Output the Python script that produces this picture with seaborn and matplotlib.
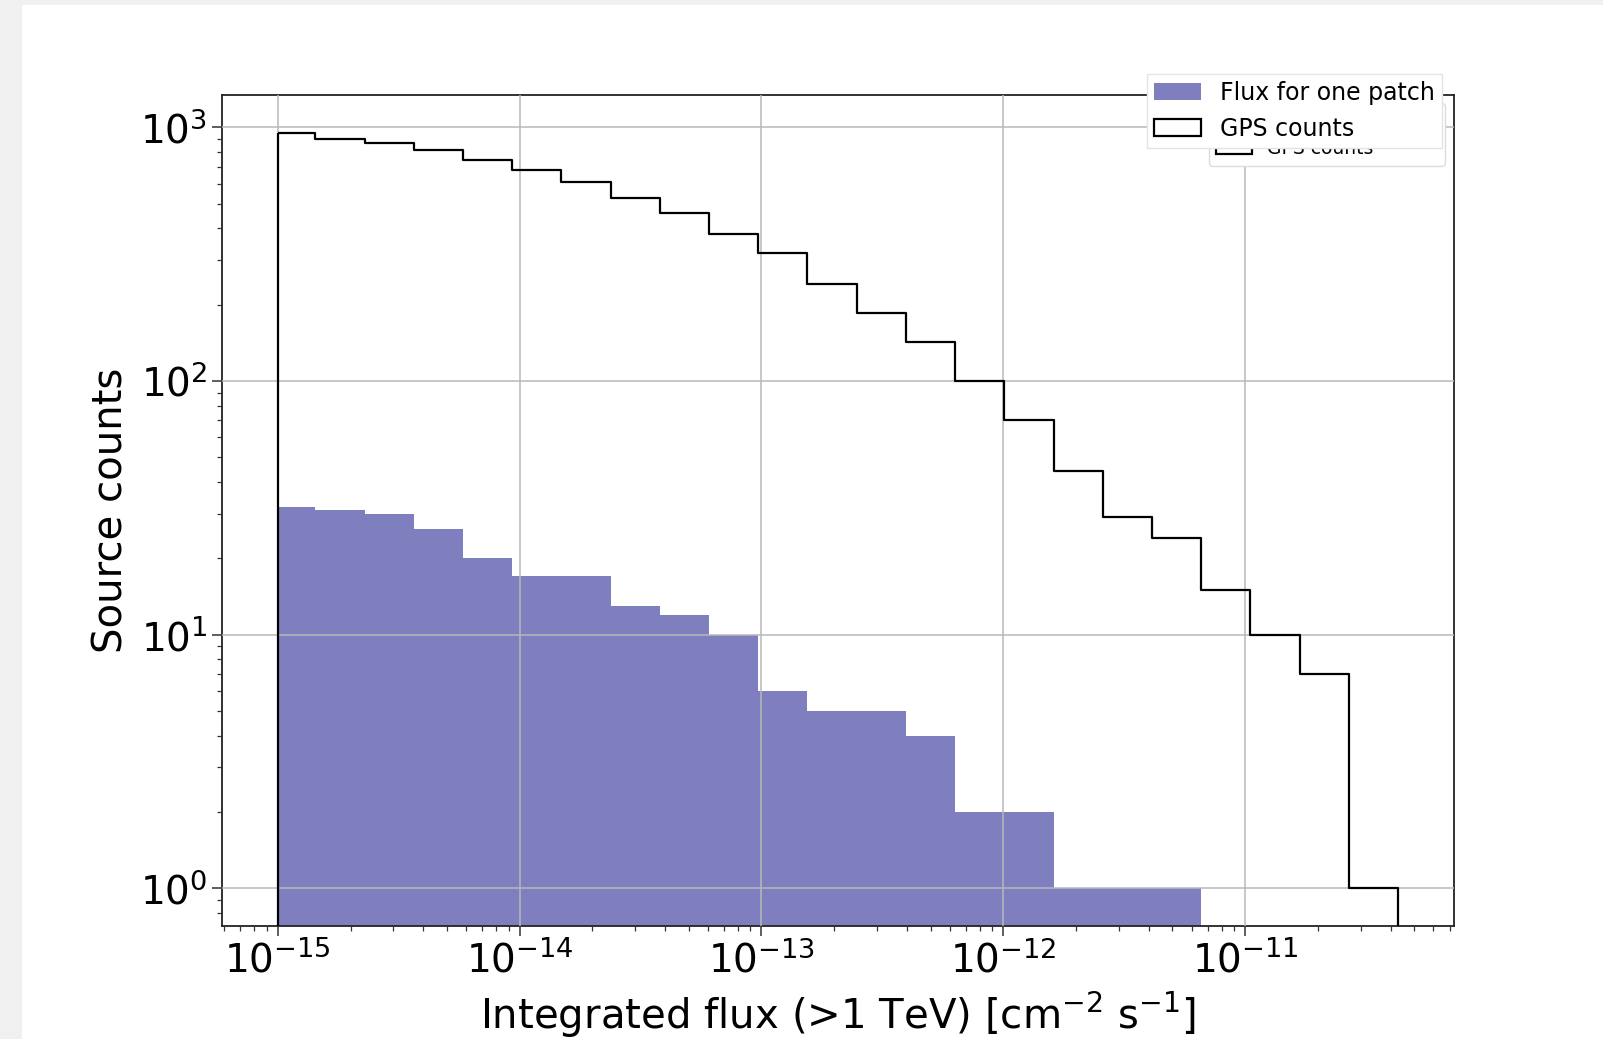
import numpy as np
import matplotlib
matplotlib.use("Agg")
import matplotlib.pyplot as plt
import seaborn as sns
from matplotlib.patches import Rectangle

# ---- data ----
# bin edges (log10 of integrated flux, cm^-2 s^-1)
edge_exponents = [-15.0, -14.845, -14.641, -14.438, -14.234, -14.031, -13.827,
                  -13.624, -13.420, -13.217, -13.013, -12.810, -12.606, -12.403,
                  -12.199, -11.996, -11.792, -11.589, -11.385, -11.182, -10.978,
                  -10.775, -10.571, -10.368]
gps_counts = [951, 895, 865, 810, 744, 676, 607, 528, 460, 380, 318, 241, 185,
              142, 100, 70, 44, 29, 24, 15, 10, 7, 1]
patch_counts = [32, 31, 30, 26, 20, 17, 17, 13, 12, 10, 6, 5, 5, 4, 2, 2, 1, 1,
                1, 0, 0, 0, 0]
legend_labels = ["Flux for one patch", "GPS counts"]
x_label = r"Integrated flux (>1 TeV) [cm$^{-2}$ s$^{-1}$]"
y_label = "Source counts"

edge_exp = np.array(edge_exponents)
edges = [float(v) for v in 10.0 ** edge_exp]
centers = 10.0 ** ((edge_exp[:-1] + edge_exp[1:]) / 2)

W, H = 1603, 1039
fig = plt.figure(figsize=(W / 100, H / 100), dpi=100, facecolor="#f0f0f0")
bg = Rectangle((22 / W, 0), 1, 1 - 5 / H, transform=fig.transFigure,
               facecolor="white", edgecolor="none", zorder=-1)
fig.add_artist(bg)

ax = fig.add_axes([221.8 / W, 1 - 926.2 / H, (1454 - 221.8) / W, (926.2 - 95) / H])
ax.set_facecolor("white")

sns.histplot(x=centers, weights=np.array(patch_counts, dtype=float), bins=edges,
             element="bars", color="navy", alpha=0.5, linewidth=0,
             label=legend_labels[0], ax=ax, zorder=1)
sns.histplot(x=centers, weights=np.array(gps_counts, dtype=float), bins=edges,
             element="step", fill=True, facecolor="none", color="black",
             linewidth=1.6, label=legend_labels[1], ax=ax, zorder=3)

ax.set_xscale("log")
ax.set_yscale("log")

xr = edge_exp[-1] - edge_exp[0]
ax.set_xlim(10 ** (edge_exp[0] - 0.05 * xr), 10 ** (edge_exp[-1] + 0.05 * xr))
pos = [c for c in gps_counts + patch_counts if c > 0]
ymin_e, ymax_e = np.log10(min(pos)), np.log10(max(pos))
yr = ymax_e - ymin_e
ax.set_ylim(10 ** (ymin_e - 0.05 * yr), 10 ** (ymax_e + 0.05 * yr))

ax.set_axisbelow(False)
ax.grid(True, which="major", color="#b8b8b8", linewidth=1.1)
ax.tick_params(which="major", labelsize=28, length=7, width=1.1, direction="out", color="#333333")
ax.tick_params(which="minor", length=3.5, width=0.9, color="#333333")
for s in ax.spines.values():
    s.set_linewidth(1.3)
    s.set_color("#222222")

ax.set_xlabel(x_label, fontsize=29, labelpad=7)
ax.set_ylabel(y_label, fontsize=29, labelpad=6)

h_all, l_all = ax.get_legend_handles_labels()
hmap = dict(zip(l_all, h_all))
handles = [hmap[l] for l in legend_labels]

leg_old = ax.legend(handles, legend_labels, loc="lower right",
                    bbox_to_anchor=(1444.5 / W, 1 - 165.6 / H),
                    bbox_transform=fig.transFigure, borderaxespad=0,
                    fontsize=13.5, framealpha=1, edgecolor="#dcdcdc",
                    handlelength=1.9)
ax.add_artist(leg_old)
leg_old.set_zorder(6)
leg_new = ax.legend(handles, legend_labels, loc="upper left",
                    bbox_to_anchor=(1147 / W, 1 - 73.6 / H),
                    bbox_transform=fig.transFigure, borderaxespad=0,
                    fontsize=17, framealpha=1, fancybox=False,
                    edgecolor="#e4e4e4", labelspacing=0.52, borderpad=0.3)
leg_new.set_zorder(7)

fig.savefig("out.png", dpi=100, facecolor=fig.get_facecolor())
